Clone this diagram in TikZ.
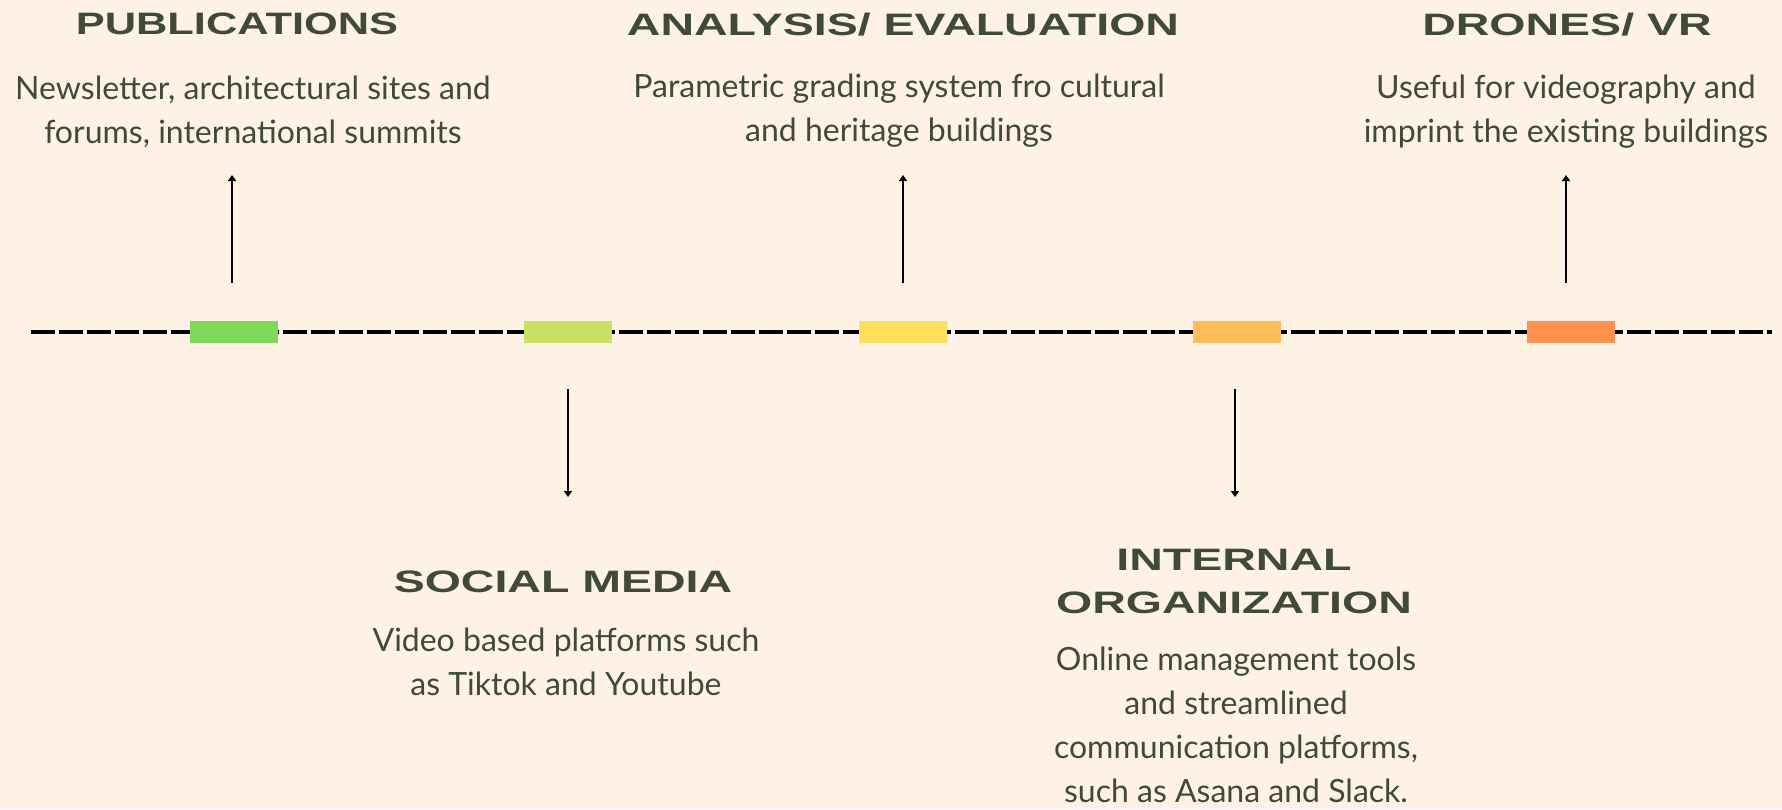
\documentclass[tikz,border=0pt]{standalone}
\usepackage{fontspec}
\setmainfont{Lato}
\newfontfamily\titlefont[FakeStretch=1.5]{Liberation Sans Bold}
\newfontfamily\titlefontnarrow[FakeStretch=1.4]{Liberation Sans Bold}
\usetikzlibrary{arrows.meta}
\definecolor{bg}{HTML}{FEF2E4}
\definecolor{txt}{HTML}{3F4A3B}
\definecolor{cgreen}{HTML}{7ED957}
\definecolor{clime}{HTML}{C9E265}
\definecolor{cyellow}{HTML}{FFDE59}
\definecolor{clorange}{HTML}{FFBD59}
\definecolor{corange}{HTML}{FF914D}
\tikzset{
  ttl/.style={anchor=base, inner sep=0pt, text=txt, font=\titlefont\fontsize{31}{43}\selectfont, align=center},
  ttl narrow/.style={ttl, font=\titlefontnarrow\fontsize{31}{43}\selectfont},
  bodytxt/.style={anchor=base, inner sep=0pt, text=txt, font=\fontsize{32}{44}\selectfont, align=center},
  mark box/.style={minimum width=88pt, minimum height=22pt, inner sep=0pt, draw=none},
  pointer/.style={line width=2pt, -{Triangle[width=8pt,length=6pt]}},
  timeline/.style={line width=4pt, dash pattern=on 24pt off 4pt}
}
\begin{document}
\begin{tikzpicture}[x=1pt,y=-1pt]
\fill[bg] (0,0) rectangle (1782,809);
\useasboundingbox (0,0) rectangle (1782,809);
% timeline
\coordinate (lstart) at (31,332);
\coordinate (lend) at (1772,332);
\draw[timeline] (lstart) -- (lend);
% boxes
\node[mark box, fill=cgreen] (b1) at (234,332) {};
\node[mark box, fill=clime] (b2) at (568,332) {};
\node[mark box, fill=cyellow] (b3) at (902.5,332) {};
\node[mark box, fill=clorange] (b4) at (1237,332) {};
\node[mark box, fill=corange] (b5) at (1571,332) {};
% arrows
\coordinate (u1s) at (232,283); \coordinate (u1e) at (232,175);
\coordinate (u3s) at (903,283); \coordinate (u3e) at (903,175);
\coordinate (u5s) at (1566,283); \coordinate (u5e) at (1566,175);
\coordinate (d2s) at (568,389); \coordinate (d2e) at (568,497);
\coordinate (d4s) at (1235,389); \coordinate (d4e) at (1235,497);
\draw[pointer] (u1s) -- (u1e);
\draw[pointer] (u3s) -- (u3e);
\draw[pointer] (u5s) -- (u5e);
\draw[pointer] (d2s) -- (d2e);
\draw[pointer] (d4s) -- (d4e);
% texts (base = baseline of last line)
\node[ttl narrow] (t1) at (237,34) {PUBLICATIONS};
\node[bodytxt] (x1) at (253,143) {Newsletter, architectural sites and\\forums, international summits};
\node[ttl] (t3) at (903,35) {ANALYSIS/ EVALUATION};
\node[bodytxt] (x3) at (899,141) {Parametric grading system fro cultural\\and heritage buildings};
\node[ttl] (t5) at (1567,35) {DRONES/ VR};
\node[bodytxt] (x5) at (1566,142) {Useful for videography and\\imprint the existing buildings};
\node[ttl] (t2) at (563,592) {SOCIAL MEDIA};
\node[bodytxt] (x2) at (566,695) {Video based platforms such\\as Tiktok and Youtube};
\node[ttl] (t4) at (1234,613) {INTERNAL\\ORGANIZATION};
\node[bodytxt] (x4) at (1236,802) {Online management tools\\and streamlined\\communication platforms,\\such as Asana and Slack.};
\end{tikzpicture}
\end{document}
